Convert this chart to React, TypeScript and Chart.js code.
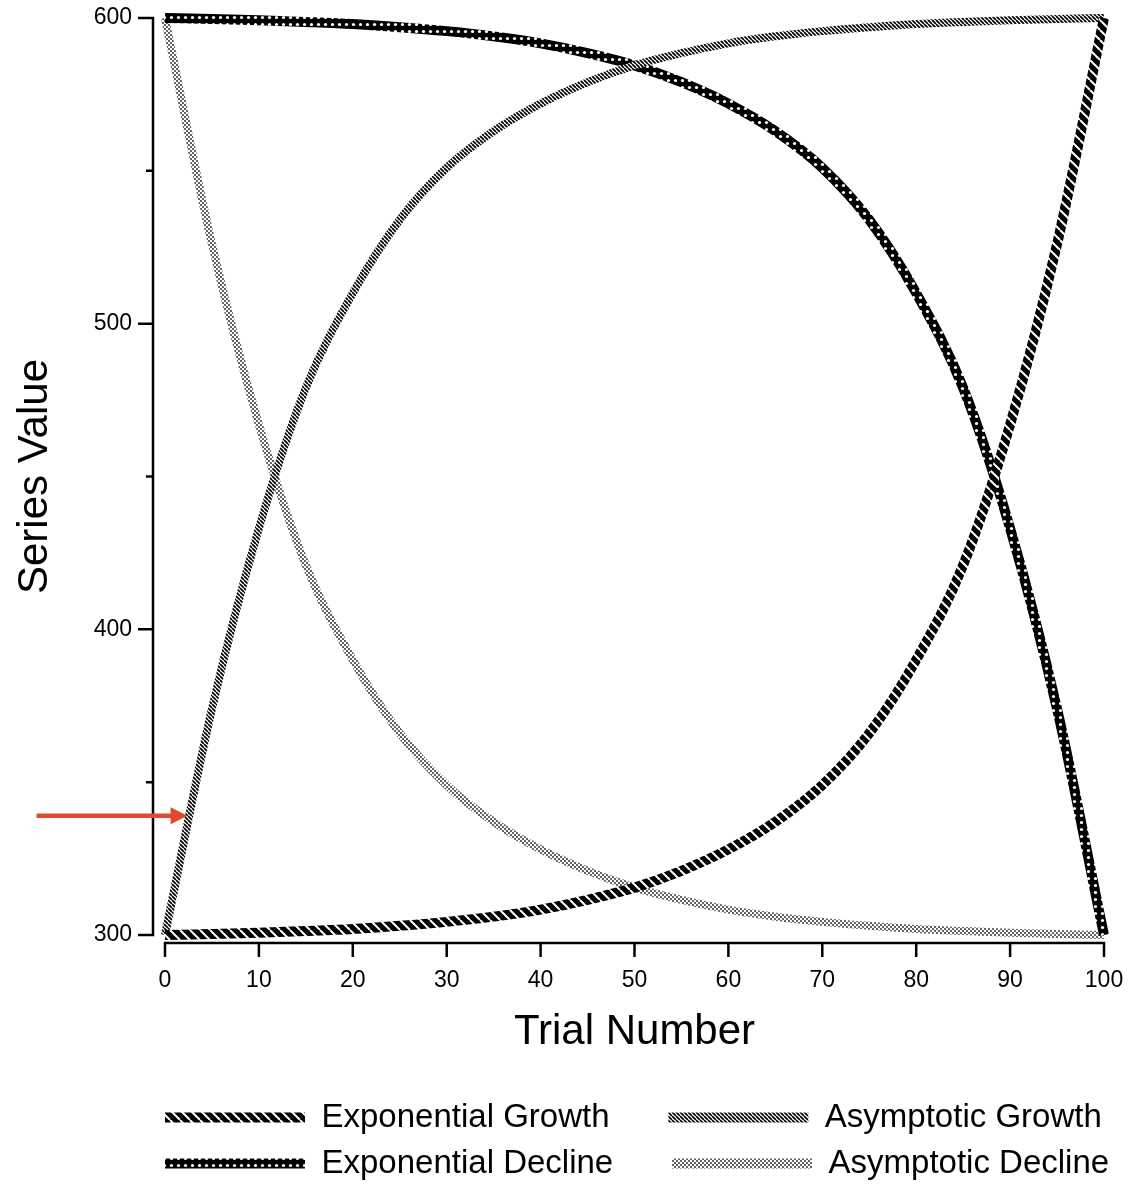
import React, { useEffect, useRef } from "react";
import { Chart, registerables } from "chart.js";

Chart.register(...registerables);

// ---- data ----
const trials = [0, 5, 10, 15, 20, 25, 30, 35, 40, 45, 50, 55, 60, 65, 70, 75, 80, 85, 90, 95, 100];
const expGrowth = [300, 300.3, 300.7, 301.3, 302, 303, 304.3, 306, 308.3, 311.5, 315.5, 321, 328, 337, 349, 366, 390, 421, 467, 526, 600];
const asymGrowth = [300, 374, 433, 479, 510, 534, 551, 563, 572, 579, 584.5, 588.5, 591.7, 594, 595.7, 597, 598, 598.7, 599.3, 599.7, 600];
const expDecline = [600, 599.7, 599.3, 598.7, 598, 597, 595.7, 594, 591.7, 588.5, 584.5, 579, 572, 563, 551, 534, 510, 479, 433, 374, 300];
const asymDecline = [600, 526, 467, 421, 390, 366, 349, 337, 328, 321, 315.5, 311.5, 308.3, 306, 304.3, 303, 302, 301.3, 300.7, 300.3, 300];
const seriesNames = ["Exponential Growth", "Asymptotic Growth", "Exponential Decline", "Asymptotic Decline"];
const xTickStep = 10;
const yTickStep = 50;
const yLabelStep = 100;
const xTitle = "Trial Number";
const yTitle = "Series Value";
// highlighted point (arrow annotation)
const arrowTrial = 2.4;
const arrowValue = 339;

const FONT = "'Liberation Sans', Arial, Helvetica, sans-serif";

function makePattern(ctx: CanvasRenderingContext2D, kind: string): CanvasPattern | string {
  const c = document.createElement("canvas");
  const p = c.getContext("2d")!;
  if (kind === "expGrowth") {
    const s = 10;
    c.width = s; c.height = s;
    p.fillStyle = "#000"; p.fillRect(0, 0, s, s);
    p.strokeStyle = "#fff"; p.lineWidth = 2;
    p.beginPath();
    for (const a of [-s, 0, s]) { p.moveTo(a, 0); p.lineTo(a + s, s); }
    p.stroke();
  } else if (kind === "expDecline") {
    const s = 7;
    c.width = s; c.height = s;
    p.fillStyle = "#000"; p.fillRect(0, 0, s, s);
    p.fillStyle = "#fff";
    p.beginPath(); p.arc(3.5, 3.5, 1.6, 0, Math.PI * 2); p.fill();
  } else if (kind === "asymGrowth") {
    const s = 4;
    c.width = s; c.height = s;
    p.fillStyle = "#fff"; p.fillRect(0, 0, s, s);
    p.strokeStyle = "#000"; p.lineWidth = 1.7;
    p.beginPath();
    for (const a of [-s, 0, s]) { p.moveTo(a, 0); p.lineTo(a + s, s); }
    p.stroke();
  } else {
    const s = 4;
    c.width = s; c.height = s;
    p.fillStyle = "#fff"; p.fillRect(0, 0, s, s);
    p.fillStyle = "#222";
    p.beginPath(); p.arc(1, 1, 0.95, 0, Math.PI * 2); p.fill();
    p.beginPath(); p.arc(3, 3, 0.95, 0, Math.PI * 2); p.fill();
  }
  return ctx.createPattern(c, "repeat") || "#000";
}

const offsetAxesPlugin = {
  id: "offsetAxes",
  afterDatasetsDraw(chart: any) {
    const { ctx, chartArea, scales } = chart;
    const x = scales.x, y = scales.y;
    const axisX = chartArea.left - 12;
    const axisY = chartArea.bottom + 8;
    ctx.save();
    ctx.strokeStyle = "#000";
    ctx.lineWidth = 2.5;
    ctx.lineCap = "butt";
    ctx.beginPath();
    ctx.moveTo(axisX, y.getPixelForValue(y.max) - 1.25);
    ctx.lineTo(axisX, y.getPixelForValue(y.min) + 1.25);
    for (const t of y.ticks) {
      const py = y.getPixelForValue(t.value);
      const len = t.value % yLabelStep === 0 ? 15 : 7;
      ctx.moveTo(axisX + 1.25, py);
      ctx.lineTo(axisX - len, py);
    }
    ctx.moveTo(x.getPixelForValue(x.min) - 1.25, axisY);
    ctx.lineTo(x.getPixelForValue(x.max) + 1.25, axisY);
    for (const t of x.ticks) {
      const px = x.getPixelForValue(t.value);
      ctx.moveTo(px, axisY - 1.25);
      ctx.lineTo(px, axisY + 14);
    }
    ctx.stroke();

    // red arrow annotation
    const tipX = x.getPixelForValue(arrowTrial);
    const tipY = y.getPixelForValue(arrowValue);
    ctx.strokeStyle = "#e5482c";
    ctx.fillStyle = "#e5482c";
    ctx.lineWidth = 4.5;
    ctx.beginPath();
    ctx.moveTo(tipX - 151, tipY);
    ctx.lineTo(tipX - 14, tipY);
    ctx.stroke();
    ctx.beginPath();
    ctx.moveTo(tipX, tipY);
    ctx.lineTo(tipX - 17, tipY - 8.5);
    ctx.lineTo(tipX - 17, tipY + 8.5);
    ctx.closePath();
    ctx.fill();
    ctx.restore();
  },
};

const legendShiftPlugin = {
  id: "legendShift",
  afterLayout(chart: any) {
    const lg = chart.legend;
    if (!lg) return;
    const pad = lg.options.labels.padding;
    lg.left = chart.chartArea.left - pad;
    lg.right = lg.left + 1300;
  },
};

export default function App() {
  const canvasRef = useRef<HTMLCanvasElement | null>(null);

  useEffect(() => {
    document.body.style.margin = "0";
    const canvas = canvasRef.current!;
    const ctx = canvas.getContext("2d")!;
    Chart.defaults.font.family = FONT;
    Chart.defaults.color = "#000";

    const patterns = [
      makePattern(ctx, "expGrowth"),
      makePattern(ctx, "asymGrowth"),
      makePattern(ctx, "expDecline"),
      makePattern(ctx, "asymDecline"),
    ];
    const series = [expGrowth, asymGrowth, expDecline, asymDecline];
    const widths = [10, 8, 10, 8];

    const chart = new Chart(canvas, {
      type: "line",
      data: {
        datasets: series.map((vals, i) => ({
          label: seriesNames[i],
          data: trials.map((t, j) => ({ x: t, y: vals[j] })),
          borderColor: patterns[i] as any,
          backgroundColor: patterns[i] as any,
          borderWidth: widths[i],
          pointRadius: 0,
          fill: false,
          cubicInterpolationMode: "monotone",
          borderJoinStyle: "round",
          clip: false,
        })),
      },
      options: {
        animation: false,
        responsive: false,
        layout: { padding: { left: 0, right: 25, top: 18, bottom: -6 } },
        plugins: {
          tooltip: { enabled: false },
          legend: {
            position: "bottom",
            align: "start",
            labels: {
              boxWidth: 140,
              boxHeight: 10,
              padding: 13,
              color: "#000",
              font: { family: FONT, size: 33 },
              generateLabels: (ch: any) =>
                ch.data.datasets.map((ds: any, i: number) => ({
                  text: i % 2 === 0 ? ds.label + "     " : ds.label,
                  fillStyle: patterns[i],
                  strokeStyle: "rgba(0,0,0,0)",
                  lineWidth: 0,
                  hidden: false,
                  datasetIndex: i,
                })),
            },
          },
        },
        scales: {
          x: {
            type: "linear",
            min: 0,
            max: 100,
            grid: { display: false, drawTicks: false },
            border: { display: false },
            ticks: {
              stepSize: xTickStep,
              padding: 32,
              color: "#000",
              maxRotation: 0,
              autoSkip: false,
              font: { family: FONT, size: 23 },
            },
            title: {
              display: true,
              text: xTitle,
              color: "#000",
              font: { family: FONT, size: 42 },
              padding: { top: 0, bottom: 30 },
            },
            afterFit: (s: any) => {
              s.height = 153;
              s.paddingLeft = 10;
              s.paddingRight = 20;
            },
          },
          y: {
            type: "linear",
            min: 300,
            max: 600,
            grid: { display: false, drawTicks: false },
            border: { display: false },
            ticks: {
              stepSize: yTickStep,
              padding: 33,
              color: "#000",
              autoSkip: false,
              font: { family: FONT, size: 23 },
              callback: (v: any) => (Number(v) % yLabelStep === 0 ? String(v) : ""),
            },
            title: {
              display: true,
              text: yTitle,
              color: "#000",
              font: { family: FONT, size: 42 },
              padding: { top: 10, bottom: 0 },
            },
            afterFit: (s: any) => {
              s.width = 165;
              s.paddingTop = 12;
              s.paddingBottom = 12;
            },
          },
        },
      },
      plugins: [offsetAxesPlugin, legendShiftPlugin],
    } as any);

    return () => chart.destroy();
  }, []);

  return <canvas ref={canvasRef} width={1129} height={1184} style={{ display: "block" }} />;
}
